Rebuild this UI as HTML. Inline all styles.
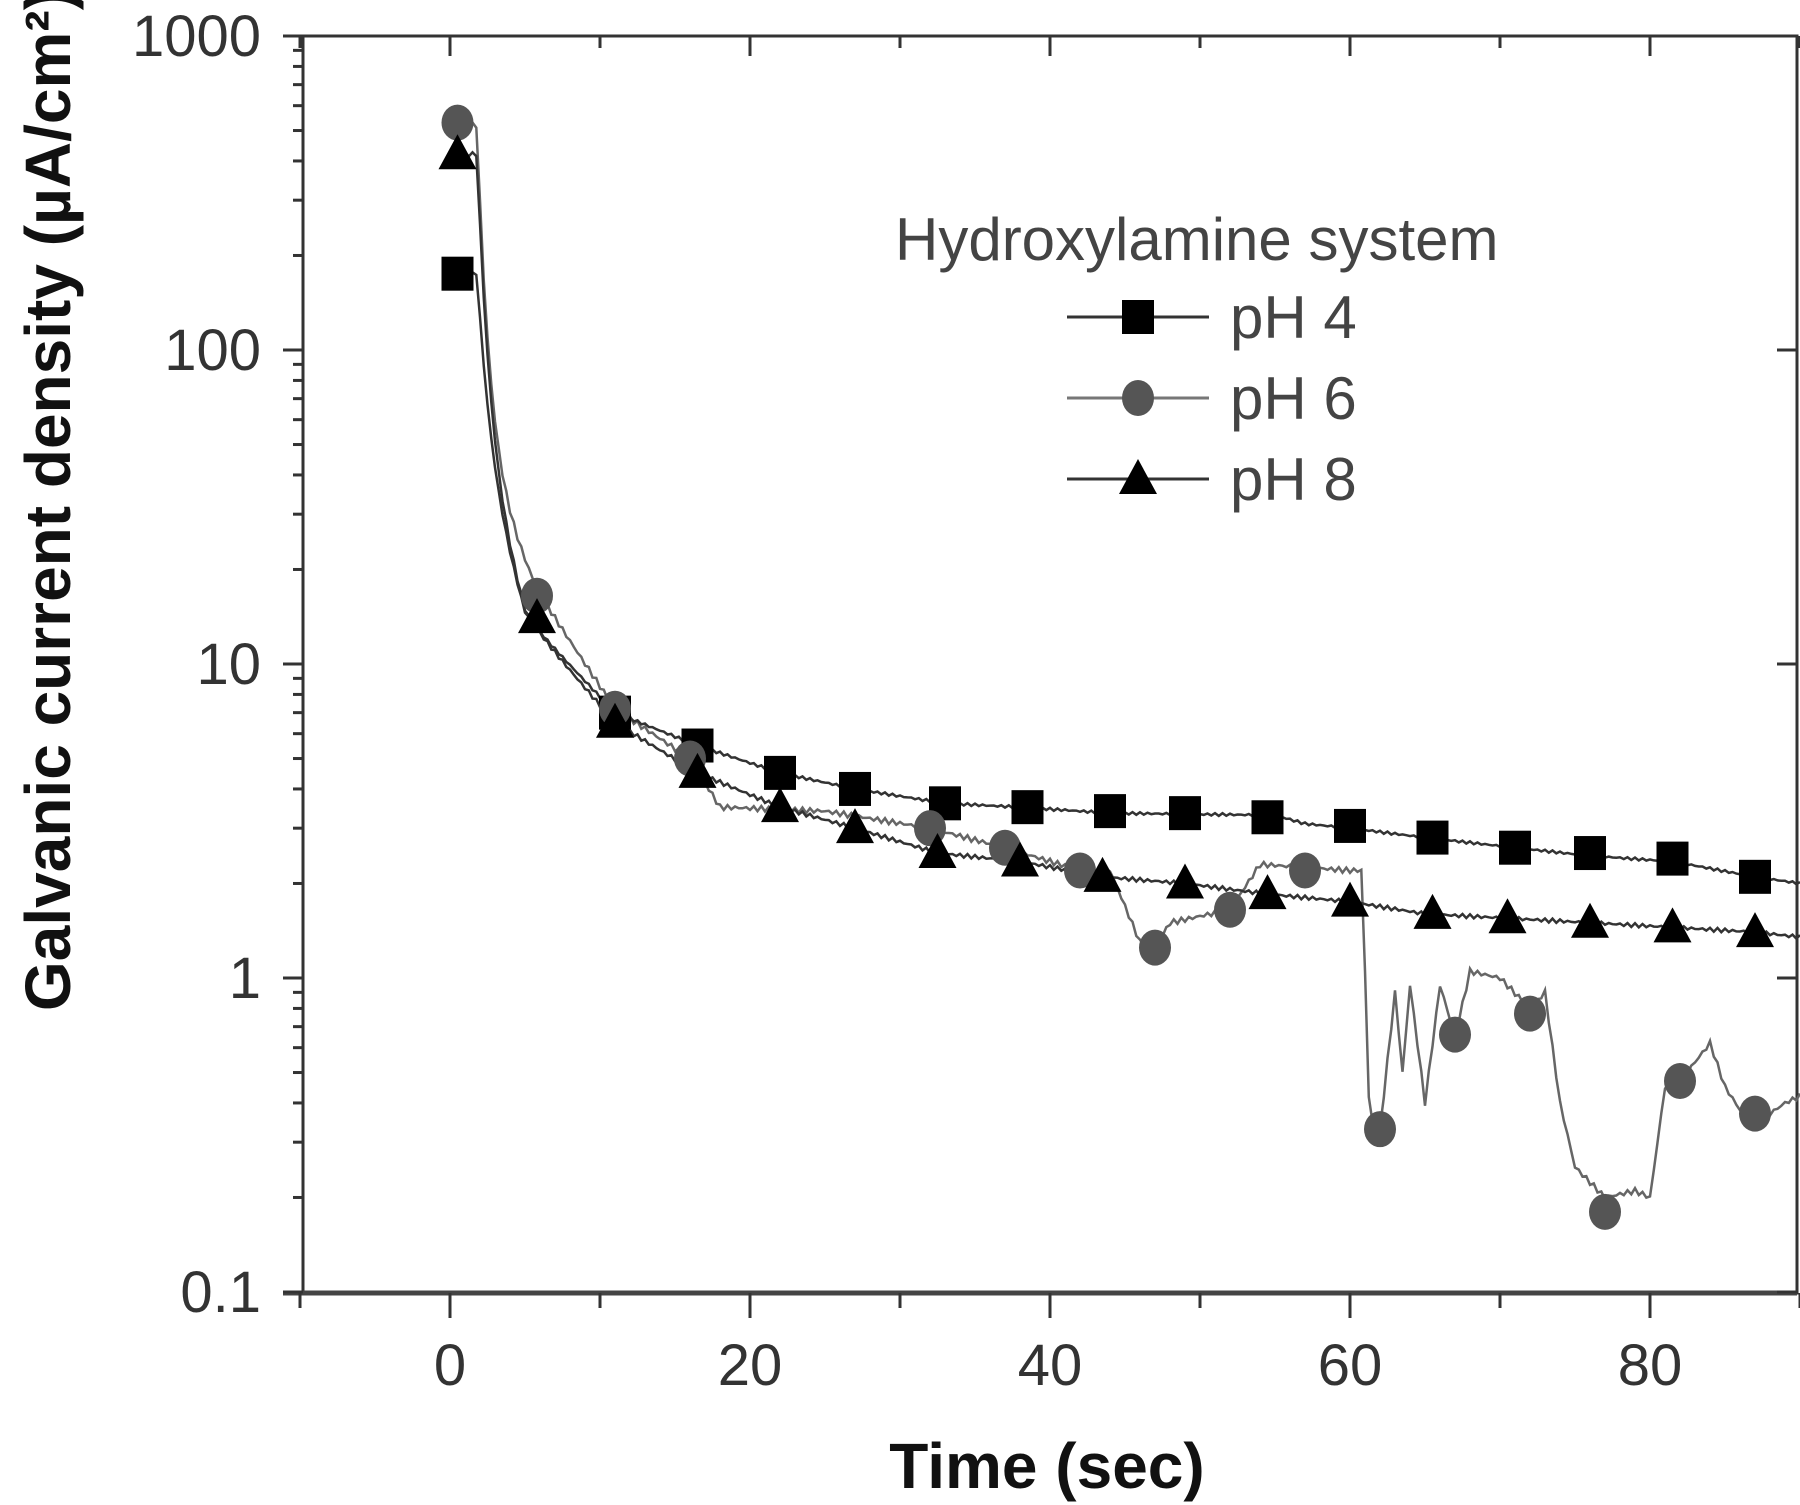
<!DOCTYPE html>
<html><head><meta charset="utf-8"><style>html,body{margin:0;padding:0;background:#fff}svg{display:block}</style></head>
<body>
<svg id="s" width="1800" height="1505" xmlns="http://www.w3.org/2000/svg" font-family="Liberation Sans, sans-serif">
<g id="g"></g>
</svg>
<script>
const NS="http://www.w3.org/2000/svg";
const g=document.getElementById('g');
function el(n,a,t){const e=document.createElementNS(NS,n);for(const k in a)e.setAttribute(k,a[k]);if(t!==undefined)e.textContent=t;g.appendChild(e);return e;}
const X=t=>450+15*t, Y=v=>36+(3-Math.log10(v))*314;
const L=303,R=1797,T=36,B=1293;
el('rect',{x:L,y:T,width:R-L,height:B-T,fill:'none',stroke:'#333','stroke-width':3});
el('line',{x1:L-20,y1:B,x2:R,y2:B,stroke:'#444','stroke-width':5});
for(let d=-1;d<=3;d++){const y=Y(Math.pow(10,d));el('line',{x1:L-20,y1:y,x2:L,y2:y,stroke:'#333','stroke-width':3});el('line',{x1:R-20,y1:y,x2:R,y2:y,stroke:'#333','stroke-width':3});
 el('text',{x:L-42,y:y+20,'font-size':58,'text-anchor':'end',fill:'#333'},d<0?'0.1':String(Math.pow(10,d)));
 if(d<3)for(let m=2;m<=9;m++){const yy=Y(m*Math.pow(10,d));el('line',{x1:L-10,y1:yy,x2:L,y2:yy,stroke:'#333','stroke-width':3});}}
for(let t=-10;t<=90;t+=10){const x=X(t);const big=t%20==0;el('line',{x1:x,y1:B,x2:x,y2:B+(big?25:15),stroke:'#333','stroke-width':3});el('line',{x1:x,y1:T,x2:x,y2:T+(big?20:12),stroke:'#333','stroke-width':3});
 if(big&&t>=0)el('text',{x:x,y:B+92,'font-size':58,'text-anchor':'middle',fill:'#333'},String(t));}
el('text',{x:1047,y:1488,'font-size':64,'font-weight':'bold','text-anchor':'middle',fill:'#111'},'Time  (sec)');
el('text',{x:0,y:0,'font-size':64,'font-weight':'bold','text-anchor':'middle',fill:'#111',transform:'translate(70,500) rotate(-90)'},'Galvanic current density  (\u00b5A/cm\u00b2)');
function decay(t,a0,tail){
 if(t<1.8) return a0;
 const k=Math.exp(-(t-1.8)*1.25);
 return Math.exp(Math.log(tail(t))+(Math.log(a0)-Math.log(tail(t)))*k);}
function pts(f,noise){let s='';for(let t=0.5;t<=90;t+=0.25){let v=f(t);if(noise)v*=1+noise*Math.sin(t*13.7);s+=(s?'L':'M')+X(t).toFixed(1)+','+Y(v).toFixed(1);}return s;}
const t4=t=>interp([[2,40],[5,14],[11,7],[16.5,5.5],[22,4.5],[27,4],[33,3.6],[38,3.5],[44,3.35],[55,3.3],[57,3.1],[60,3],[65,2.8],[71,2.6],[76,2.45],[81.5,2.35],[87,2.1],[90,2.0]],t);
const t8=t=>interp([[2,40],[5,14],[11,6.5],[16.5,4.5],[22,3.5],[27,3],[32.5,2.5],[38,2.35],[43.5,2.1],[49,2.0],[54.5,1.85],[60,1.75],[65,1.6],[70.5,1.55],[76,1.5],[81.5,1.45],[87,1.4],[90,1.35]],t);
const t6=t=>interp([[2,40],[5.8,17],[11,7.2],[16,5],[18,3.5],[25,3.4],[32,3],[37,2.6],[42,2.2],[44,2.2],[46,1.3],[47,1.25],[48,1.5],[52,1.65],[54,2.3],[57,2.25],[60,2.2],[60.8,2.2],[61.3,0.35],[62,0.33],[63,0.9],[63.5,0.5],[64,0.95],[65,0.4],[66,0.95],[67,0.65],[68,1.05],[70,1.0],[72,0.8],[73,0.9],[74,0.4],[75,0.25],[77,0.2],[79,0.21],[80,0.2],[81,0.45],[82,0.47],[84,0.62],[85,0.45],[86,0.38],[88,0.37],[89,0.4],[90,0.42]],t);
function interp(a,t){if(t<=a[0][0])return a[0][1];for(let i=1;i<a.length;i++)if(t<=a[i][0]){const f=(t-a[i-1][0])/(a[i][0]-a[i-1][0]);return Math.exp(Math.log(a[i-1][1])+f*(Math.log(a[i][1])-Math.log(a[i-1][1])));}return a[a.length-1][1];}
el('path',{d:pts(t=>decay(t,520,t6),0.02),fill:'none',stroke:'#666','stroke-width':2.5});
el('path',{d:pts(t=>decay(t,175,t4),0.01),fill:'none',stroke:'#333','stroke-width':2.5});
el('path',{d:pts(t=>decay(t,420,t8),0.015),fill:'none',stroke:'#333','stroke-width':2.5});
function sq(x,y){el('rect',{x:x-16,y:y-17,width:32,height:34,fill:'#000'});}
function ci(x,y){el('ellipse',{cx:x,cy:y,rx:16,ry:18,fill:'#555'});}
function tr(x,y){el('polygon',{points:`${x},${y-20} ${x+19},${y+15} ${x-19},${y+15}`,fill:'#000'});}
const s4=[[0.5,175],[11,7],[16.5,5.5],[22,4.5],[27,4],[33,3.6],[38.5,3.5],[44,3.4],[49,3.35],[54.5,3.25],[60,3.05],[65.5,2.8],[71,2.6],[76,2.5],[81.5,2.4],[87,2.1]];
const s6=[[0.5,530],[5.8,16.5],[11,7.2],[16,5],[32,3],[37,2.6],[42,2.2],[47,1.25],[52,1.65],[57,2.2],[62,0.33],[67,0.66],[72,0.77],[77,0.18],[82,0.47],[87,0.37]];
const s8=[[0.5,420],[5.8,14],[11,6.5],[16.5,4.5],[22,3.5],[27,3],[32.5,2.5],[38,2.35],[43.5,2.1],[49,2.0],[54.5,1.85],[60,1.75],[65.5,1.6],[70.5,1.55],[76,1.5],[81.5,1.45],[87,1.4]];
s4.forEach(p=>sq(X(p[0]),Y(p[1])));s6.forEach(p=>ci(X(p[0]),Y(p[1])));s8.forEach(p=>tr(X(p[0]),Y(p[1])));
el('text',{x:895,y:260,'font-size':60,fill:'#444'},'Hydroxylamine system');
[[317,sq,'pH 4','#333'],[398,ci,'pH 6','#777'],[479,tr,'pH 8','#333']].forEach(r=>{el('line',{x1:1067,y1:r[0],x2:1209,y2:r[0],stroke:r[3],'stroke-width':3});r[1](1138,r[0]);el('text',{x:1230,y:r[0]+21,'font-size':60,fill:'#444'},r[2]);});
</script>
</body></html>
